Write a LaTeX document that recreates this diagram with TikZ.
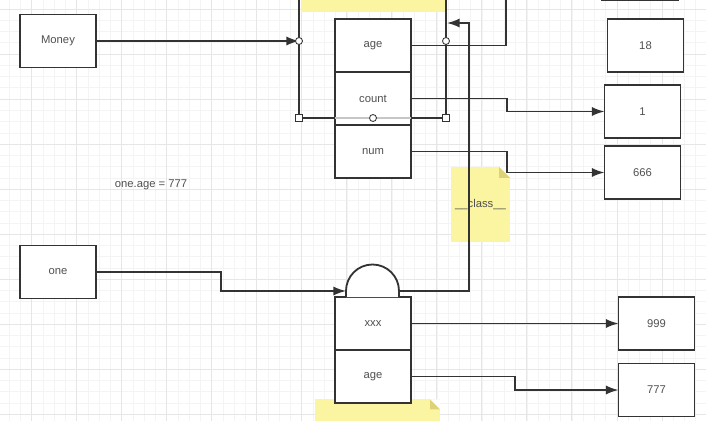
\documentclass[tikz,border=0pt]{standalone}
\usepackage{fontspec}
\setmainfont{Liberation Sans}
\usepackage{tikz}
\usetikzlibrary{arrows.meta,positioning,calc}

\definecolor{ink}{HTML}{333333}
\definecolor{txt}{HTML}{505050}
\definecolor{notefill}{HTML}{FBF4A0}
\definecolor{notefold}{HTML}{DDD27A}
\definecolor{gridminor}{HTML}{F4F4F4}
\definecolor{gridmajor}{HTML}{E6E6E6}

\begin{document}
\begin{tikzpicture}[
    x=0.025cm, y=-0.025cm,
    font=\fontsize{8}{9}\selectfont, text=txt,
    box/.style={draw=ink, line width=1.3pt, fill=white, inner sep=0pt, outer sep=0pt,
      minimum width=1.9cm, minimum height=1.325cm},
    field/.style={box},
    notebox/.style={fill=notefill, inner sep=0pt, outer sep=0pt},
    arr/.style={-{Latex[length=9pt,width=6.5pt]}, draw=ink, line width=1.1pt},
    link/.style={draw=ink, line width=1.1pt},
    handle/.style={draw=ink, fill=white, line width=0.6pt},
  ]
    \fill[white] (0,0) rectangle (706,421);
    \useasboundingbox (0,0) rectangle (706,421);
    % background grid
    \draw[gridminor, line width=0.4pt, shift={(9.2,9)}] (-20,-20) grid[step=0.28125cm] (720,440);
    \draw[gridmajor, line width=0.5pt, shift={(31.7,9)}] (-50,-50) grid[step=1.125cm] (720,440);

    % sticky notes
    \node[notebox, minimum width=3.575cm, minimum height=1.575cm] (topnote) at (373,-20) {};
    \node[notebox, minimum width=1.475cm, minimum height=1.875cm] (clsnote) at (480.5,204.5) {\_\_class\_\_};
    \fill[white] (clsnote.north east) -- ++(-11,0) -- ++(11,11) -- cycle;
    \fill[notefold] ($(clsnote.north east)+(-11,0)$) -- ++(0,11) -- ++(11,0) -- cycle;
    \node[notebox, minimum width=3.125cm, minimum height=1.05cm] (btmnote) at (377.5,420.5) {};
    \fill[white] (btmnote.north east) -- ++(-10,0) -- ++(10,10) -- cycle;
    \fill[notefold] ($(btmnote.north east)+(-10,0)$) -- ++(0,10) -- ++(10,0) -- cycle;

    % selection frame round the class
    \coordinate (sel-w) at (299,41);
    \coordinate (sel-e) at (446,41);
    \coordinate (sel-sw) at (299,118);
    \coordinate (sel-se) at (446,118);
    \coordinate (sel-s) at (373,118);
    \draw[link] (299,-5) -- (sel-sw) -- (sel-se) -- (446,-5);

    % references
    \node[box] (money) at (58,41) {Money};
    \node[box] (one) at (58,272) {one};
    \node[txt] (assign) at (151,184.5) {one.age = 777};

    % class object
    \node[field] (cage) at (373,45.5) {age};
    \node[field, below=0pt of cage] (ccount) {count};
    \node[field, below=0pt of ccount] (cnum) {num};
    \draw[gray!45, line width=0.8pt] (cage.west |- sel-s) -- (cage.east |- sel-s);

    % instance object
    \node[field] (ixxx) at (373,323.5) {xxx};
    \node[field, below=0pt of ixxx] (iage) {age};
    \coordinate (head-l) at (346,291);
    \coordinate (head-r) at (399,291);
    \draw[ink, line width=1.3pt, fill=white] (346,297) -- (head-l) arc[start angle=180, end angle=360, radius=26.5] -- (399,297);

    % values
    \node[box] (vtop) at (640,-26) {};
    \node[box] (v18) at (645.5,45.5) {18};
    \node[box] (v1) at (642.5,111.5) {1};
    \node[box] (v666) at (642.5,172.5) {666};
    \node[box] (v999) at (656.5,323.5) {999};
    \node[box] (v777) at (656.5,390) {777};

    % connectors
    \coordinate (age-out) at (506,-5);
    \coordinate (cls-in) at (447,23);
    \draw[arr] (money.east) -- (sel-w);
    \draw[link] (cage.east) -| (age-out);
    \draw[arr] (ccount.east) -- ++(96,0) |- (v1.west);
    \draw[arr] (cnum.east) -- ++(96,0) |- (v666.west);
    \draw[arr] (one.east) -- ++(125,0) |- (head-l);
    \draw[arr] (head-r) -| ($(cls-in)+(22,0)$) -- (cls-in);
    \draw[arr] (ixxx.east) -- (v999.west);
    \draw[arr] (iage.east) -- ++(104,0) |- (v777.west);

    % frame handles
    \foreach \h in {sel-w, sel-e, sel-s}
      \draw[handle] (\h) circle[radius=3.5];
    \foreach \h in {sel-sw, sel-se}
      \draw[handle] ($(\h)+(-3.5,-3.5)$) rectangle ($(\h)+(3.5,3.5)$);
  \end{tikzpicture}
\end{document}
